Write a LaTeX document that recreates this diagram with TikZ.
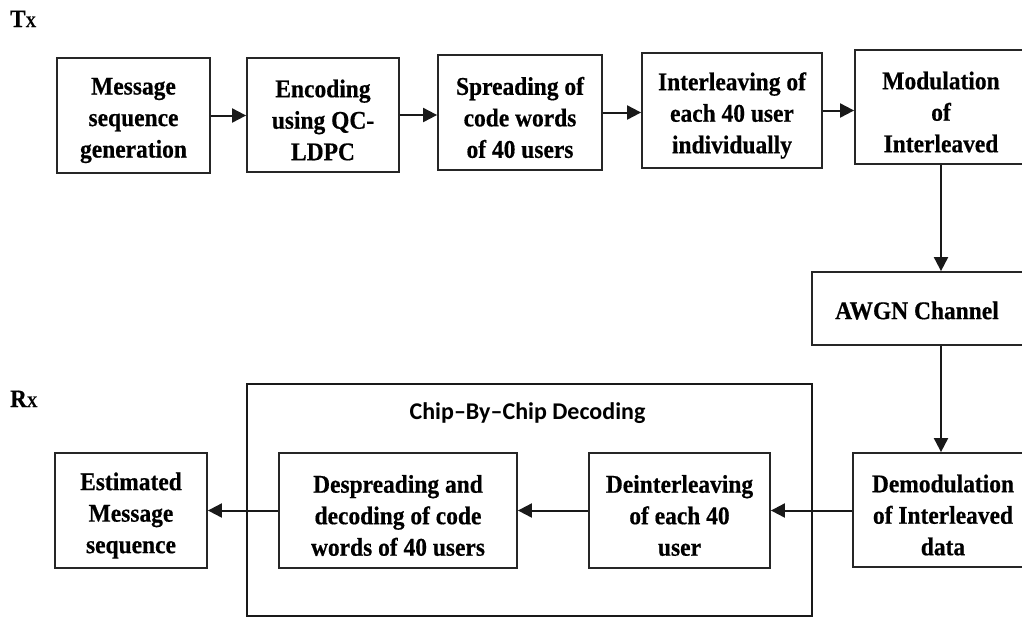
\documentclass[tikz,border=0pt]{standalone}
\usepackage{fontspec}
\newfontfamily\boxfont{Liberation Serif}[FakeStretch=0.92, BoldFeatures={FakeBold=0.5}]
\newfontfamily\chipfont{Carlito}
\usetikzlibrary{arrows.meta}
\begin{document}
\begin{tikzpicture}[x=1pt,y=-1pt,
  blk/.style={draw=black!85, line width=1.8pt, fill=white, inner sep=0pt},
  blktext/.style={inner sep=0pt, align=center, yshift=-5pt,
    font=\boxfont\bfseries\fontsize{25.5}{31.5}\selectfont},
  conn/.style={draw=black!90, line width=2pt, -{Triangle[length=14pt,width=14pt]}},
  sidelabel/.style={inner sep=0pt, anchor=base west, font=\boxfont\bfseries}
]
\useasboundingbox (0,0) rectangle (1022,619);

% labels
\node[sidelabel] (tx) at (10,27) {\fontsize{25}{25}\selectfont T\fontsize{16}{16}\selectfont X};
\node[sidelabel] (rx) at (10,407) {\fontsize{25}{25}\selectfont R\fontsize{16}{16}\selectfont X};

% top row
\node[blk, minimum width=153pt, minimum height=115pt] (msg) at (133.5,115.5) {};
\node[blktext] (msgt) at (msg.center) {Message\\sequence\\generation};
\node[blk, minimum width=152pt, minimum height=114pt] (enc) at (323,115) {};
\node[blktext] (enct) at (enc.center) {Encoding\\using QC-\\LDPC};
\node[blk, minimum width=164pt, minimum height=115pt] (spr) at (520,112.5) {};
\node[blktext] (sprt) at (spr.center) {Spreading of\\code words\\of 40 users};
\node[blk, minimum width=180pt, minimum height=115pt] (inl) at (732,110.5) {};
\node[blktext] (inlt) at (inl.center) {Interleaving of\\each 40 user\\individually};
\node[blk, minimum width=172pt, minimum height=114pt] (mod) at (941,107) {};
\node[blktext] (modt) at (mod.center) {Modulation\\of\\Interleaved};

% channel
\node[blk, minimum width=218pt, minimum height=73pt] (awgn) at (921,308.5) {};
\node[blktext, yshift=3pt] (awgnt) at (917,308.5) {AWGN Channel};

% receiver
\node[blk, minimum width=180pt, minimum height=114pt] (demod) at (943,510) {};
\node[blktext] (demodt) at (demod.center) {Demodulation\\of Interleaved\\data};
\draw[draw=black!90, line width=1.8pt] (247,384) rectangle (812,616);
\node[inner sep=0pt, font=\chipfont\bfseries\fontsize{24}{28}\selectfont] (chip) at (527.5,413) {Chip–By–Chip Decoding};
\node[blk, minimum width=181pt, minimum height=115pt] (deint) at (679.5,510.5) {};
\node[blktext] (deintt) at (deint.center) {Deinterleaving\\of each 40\\user};
\node[blk, minimum width=238pt, minimum height=115pt] (desp) at (398,510.5) {};
\node[blktext] (despt) at (desp.center) {Despreading and\\decoding of code\\words of 40 users};
\node[blk, minimum width=152pt, minimum height=115pt] (est) at (131,510.5) {};
\node[blktext] (estt) at (est.center) {Estimated\\Message\\sequence};

% connectors
\draw[conn] (msg.east) -- (msg.east -| enc.west);
\draw[conn] (enc.east) -- (enc.east -| spr.west);
\draw[conn] (spr.east) -- (spr.east -| inl.west);
\draw[conn] (inl.east) -- (inl.east -| mod.west);
\draw[conn] (mod.south) -- (mod.south |- awgn.north);
\draw[conn] (awgn.south -| mod.south) -- (mod.south |- demod.north);
\draw[conn] (demod.west |- deint.east) -- (deint.east);
\draw[conn] (deint.west) -- (deint.west -| desp.east);
\draw[conn] (desp.west) -- (desp.west -| est.east);
\end{tikzpicture}
\end{document}
